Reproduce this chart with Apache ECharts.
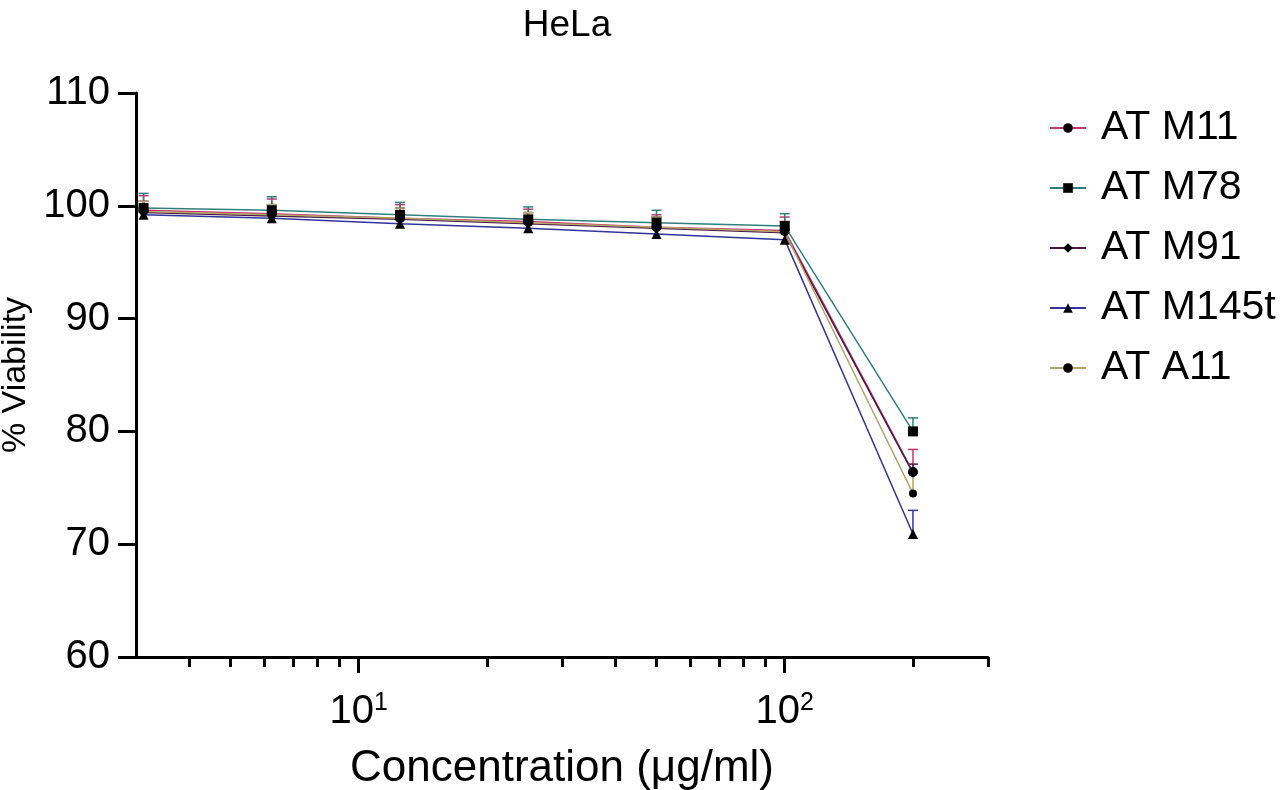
<!DOCTYPE html>
<html>
<head>
<meta charset="UTF-8">
<script src="https://cdn.jsdelivr.net/npm/echarts@6/dist/echarts.min.js"></script>
</head>
<body style="margin:0;background:#fff">
<div id="container" style="width:1280px;height:790px"></div>
<script>
// concentrations in ug/ml
var concentrations = [3.125, 6.25, 12.5, 25, 50, 100, 200];
var seriesNames = ['AT M11', 'AT M78', 'AT M91', 'AT M145t', 'AT A11'];

// mean viability (%) and upper error (SD) per series
var atM11 = [99.6, 99.3, 98.9, 98.6, 98.1, 97.8, 76.4];
var atM11Sd = [1.3, 1.3, 1.2, 1.1, 1.1, 1.2, 2.0];
var atM78 = [99.8, 99.6, 99.2, 98.8, 98.5, 98.2, 80.0];
var atM78Sd = [1.3, 1.2, 1.1, 1.1, 1.1, 1.1, 1.2];
var atM91 = [99.4, 99.1, 98.8, 98.4, 98.0, 97.6, 76.3];
var atM91Sd = [1.0, 1.0, 1.0, 1.0, 1.0, 1.0, 0.8];
var atM145t = [99.2, 98.9, 98.4, 98.0, 97.5, 97.0, 70.9];
var atM145tSd = [0.6, 0.6, 0.6, 0.6, 0.6, 0.6, 2.1];
var atA11 = [99.5, 99.2, 98.9, 98.5, 98.1, 97.7, 74.5];
var atA11Sd = [0.9, 0.9, 0.9, 0.9, 0.9, 0.9, 1.8];

var majorTicks = [10, 100];
var minorTicks = [4, 5, 6, 7, 8, 9, 20, 30, 40, 50, 60, 70, 80, 90, 200, 300];
var yTicks = [60, 70, 80, 90, 100, 110];

var lineColors = ['#c8346c', '#2f7f7c', '#4a1846', '#33339c', '#b2a46a'];
var symbols = ['circle', 'rect', 'diamond', 'triangle', 'circle'];
var symbolSizes = [10, 10, 9, 10, 8];
var means = [atM11, atM78, atM91, atM145t, atA11];
var sds = [atM11Sd, atM78Sd, atM91Sd, atM145tSd, atA11Sd];

var font = 'Liberation Sans, Arial, sans-serif';

var series = [];
seriesNames.forEach(function (name, i) {
    var errData = concentrations.map(function (c, j) {
        return [c, means[i][j], means[i][j] + sds[i][j]];
    });
    series.push({
        name: name + ' err',
        type: 'custom',
        xAxisIndex: 0,
        z: 2,
        data: errData,
        renderItem: function (params, api) {
            var p0 = api.coord([api.value(0), api.value(1)]);
            var p1 = api.coord([api.value(0), api.value(2)]);
            var style = {stroke: lineColors[i], lineWidth: 1.5};
            return {
                type: 'group',
                children: [
                    {type: 'line', shape: {x1: p0[0], y1: p0[1], x2: p1[0], y2: p1[1]}, style: style},
                    {type: 'line', shape: {x1: p1[0] - 5, y1: p1[1], x2: p1[0] + 5, y2: p1[1]}, style: style}
                ]
            };
        }
    });
    series.push({
        name: name,
        type: 'line',
        xAxisIndex: 0,
        z: 3,
        data: concentrations.map(function (c, j) { return [c, means[i][j]]; }),
        symbol: symbols[i],
        symbolSize: symbolSizes[i],
        showSymbol: true,
        color: lineColors[i],
        itemStyle: {color: '#000'},
        lineStyle: {color: lineColors[i], width: 1.5}
    });
});

var myChart = echarts.init(document.getElementById('container'));
var option = {
    animation: false,
    backgroundColor: '#fff',
    title: {
        text: 'HeLa',
        left: 562,
        textAlign: 'center',
        top: 2,
        textStyle: {fontFamily: font, fontSize: 37, fontWeight: 'normal', color: '#000'}
    },
    legend: {
        orient: 'vertical',
        left: 1044,
        top: 102,
        itemWidth: 36,
        itemHeight: 12,
        itemGap: 18,
        data: seriesNames,
        textStyle: {fontFamily: font, fontSize: 41, lineHeight: 42, color: '#000', padding: [0, 0, 0, 10]}
    },
    grid: {left: 136, right: 292, top: 93, bottom: 133, outerBoundsMode: 'none', containLabel: false},
    xAxis: [
        {
            type: 'log',
            logBase: 10,
            min: 3,
            max: 300,
            position: 'bottom',
            name: 'Concentration (\u03bcg/ml)',
            nameLocation: 'middle',
            nameGap: 90,
            nameTextStyle: {fontFamily: font, fontSize: 44, color: '#000'},
            axisLine: {lineStyle: {color: '#000', width: 3}},
            axisTick: {show: true, length: 16, lineStyle: {color: '#000', width: 3}, customValues: majorTicks},
            axisLabel: {
                customValues: majorTicks,
                margin: 34,
                formatter: function (v) {
                    return '{b|10}{s|' + Math.round(Math.log10(v)) + '}';
                },
                rich: {
                    b: {fontFamily: font, fontSize: 40, lineHeight: 42, color: '#000'},
                    s: {fontFamily: font, fontSize: 25, lineHeight: 25, verticalAlign: 'top', color: '#000'}
                }
            },
            splitLine: {show: false}
        },
        {
            type: 'log',
            logBase: 10,
            min: 3,
            max: 300,
            position: 'bottom',
            axisLine: {show: false},
            axisTick: {show: true, length: 10, lineStyle: {color: '#000', width: 3}, customValues: minorTicks},
            axisLabel: {show: false},
            splitLine: {show: false}
        }
    ],
    yAxis: {
        type: 'value',
        min: 60,
        max: 110,
        interval: 10,
        name: '% Viability',
        nameLocation: 'middle',
        nameGap: 98,
        nameTextStyle: {fontFamily: font, fontSize: 34, color: '#000'},
        axisLine: {show: true, lineStyle: {color: '#000', width: 3}},
        axisTick: {show: true, length: 18, lineStyle: {color: '#000', width: 3}},
        axisLabel: {
            margin: 26,
            fontFamily: font,
            fontSize: 40,
            color: '#000',
            customValues: yTicks
        },
        splitLine: {show: false}
    },
    series: series
};
myChart.setOption(option);
</script>
</body>
</html>
